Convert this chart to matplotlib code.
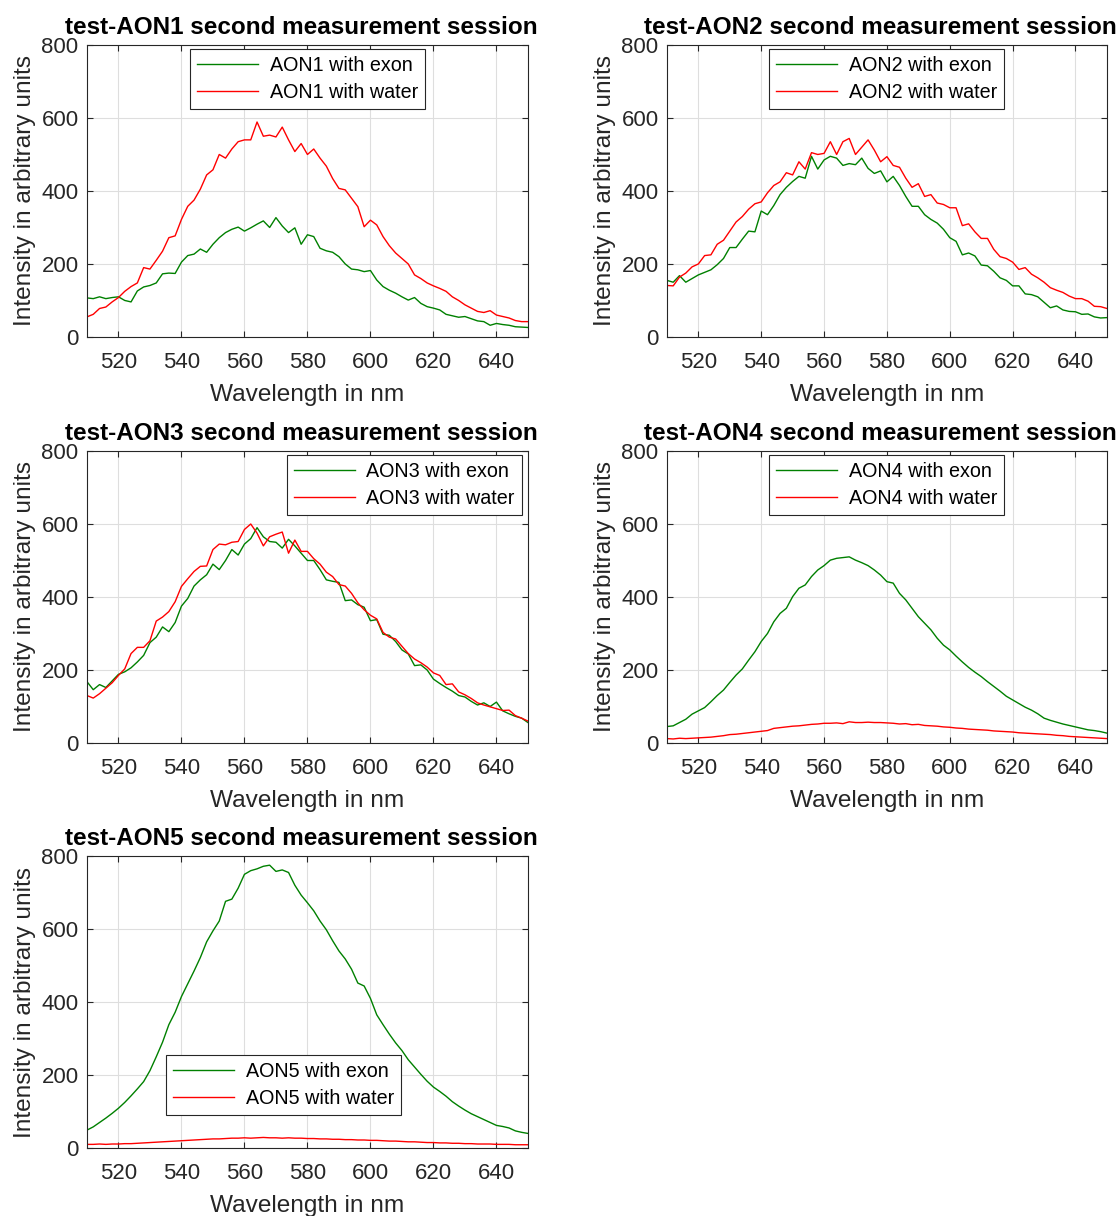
import numpy as np
from matplotlib import pyplot as plt

plt.rcParams['font.family'] = ['Liberation Sans', 'DejaVu Sans']

wavelength = np.arange(510, 651, 2)

aon1_exon = [107, 105, 110, 105, 108, 110, 100, 96, 126, 137,
             141, 148, 173, 175, 174, 205, 223, 227, 241, 232,
             254, 272, 286, 295, 301, 290, 299, 309, 318, 300,
             327, 304, 286, 299, 254, 280,
             275, 243, 236, 232, 220, 200, 186, 184, 179, 182,
             156, 138, 128, 120, 110, 101, 108, 92, 83, 79,
             74, 62, 58, 54, 56, 50, 44, 42, 32, 37,
             34, 32, 28, 27, 26]
aon1_water = [55, 62, 78, 82, 96, 108, 125, 138, 148, 190,
              186, 210, 235, 272, 277, 322, 358, 375, 405, 444,
              458, 500, 490, 515, 535, 540, 540, 589, 550, 553,
              548, 575, 540, 508, 530, 500,
              515, 490, 468, 434, 407, 403, 380, 357, 302, 320,
              307, 275, 250, 230, 215, 200, 170, 160, 148, 140,
              133, 125, 110, 100, 88, 79, 70, 67, 72, 60,
              56, 52, 45, 42, 42]

aon2_exon = [155, 150, 168, 150, 160, 170, 177, 184, 198, 215,
             245, 245, 268, 290, 288, 345, 335, 360, 390, 410,
             426, 440, 435, 495, 460, 485, 495, 490, 470, 475,
             472, 490, 462, 448, 455, 425,
             440, 415, 385, 358, 358, 335, 322, 312, 295, 272,
             262, 225, 230, 222, 197, 195, 180, 162, 155, 140,
             140, 118, 116, 110, 95, 80, 85, 74, 70, 69,
             62, 63, 55, 52, 53]
aon2_water = [141, 140, 164, 175, 192, 200, 223, 225, 254, 265,
              290, 315, 330, 350, 365, 370, 395, 415, 425, 450,
              444, 480, 460, 505, 500, 503, 535, 500, 535, 544,
              500, 520, 540, 512, 480, 494,
              470, 465, 435, 410, 420, 385, 390, 367, 363, 354,
              354, 305, 310, 288, 270, 270, 240, 220, 215, 205,
              185, 190, 172, 162, 150, 135, 128, 122, 112, 105,
              105, 98, 84, 83, 78]

aon3_exon = [168, 146, 160, 152, 170, 188, 195, 206, 222, 240,
             275, 290, 318, 305, 330, 375, 396, 430, 447, 461,
             490, 475, 500, 530, 515, 545, 560, 590, 565, 552,
             550, 534, 558, 540, 520, 500,
             500, 475, 447, 443, 440, 390, 392, 379, 372, 335,
             338, 298, 295, 278, 255, 244, 212, 214, 200, 175,
             163, 152, 142, 130, 126, 114, 104, 110, 100, 112,
             88, 80, 73, 68, 56]
aon3_water = [130, 123, 135, 150, 165, 185, 203, 245, 262, 262,
              280, 334, 345, 360, 387, 429, 450, 470, 484, 485,
              530, 545, 543, 550, 552, 585, 600, 575, 540, 565,
              572, 578, 520, 556, 525, 525,
              505, 490, 468, 456, 434, 430, 410, 384, 365, 350,
              340, 303, 290, 285, 265, 245, 230, 220, 208, 192,
              185, 160, 162, 140, 132, 122, 110, 104, 99, 94,
              89, 90, 75, 68, 60]

aon4_exon = [45, 47, 56, 65, 79, 88, 97, 113, 130, 145,
             166, 186, 203, 227, 250, 278, 300, 332, 355, 369,
             401, 424, 433, 456, 474, 486, 501, 506, 508, 510,
             501, 494, 486, 474, 460, 442,
             438, 410, 392, 369, 346, 328, 310, 287, 268, 255,
             238, 222, 207, 194, 182, 168, 155, 142, 128, 118,
             108, 98, 90, 80, 68, 62, 57, 52, 48, 44,
             40, 36, 34, 31, 27]
aon4_water = [12, 11, 13, 12, 13, 14, 15, 16, 18, 20,
              23, 24, 26, 28, 30, 32, 34, 40, 42, 44,
              46, 47, 49, 51, 52, 54, 54, 55, 53, 58,
              56, 56, 57, 56, 56, 55,
              54, 52, 53, 50, 51, 48, 47, 46, 44, 43,
              41, 40, 38, 37, 36, 35, 33, 32, 31, 30,
              28, 27, 26, 25, 24, 23, 21, 20, 18, 17,
              16, 15, 14, 13, 12]

aon5_exon = [49, 58, 70, 82, 95, 109, 125, 143, 162, 182,
             212, 250, 290, 338, 372, 415, 450, 485, 522, 565,
             595, 622, 676, 682, 712, 750, 760, 765, 772, 775,
             758, 762, 755, 720, 693, 672,
             650, 622, 598, 568, 540, 518, 490, 452, 444, 410,
             365, 338, 312, 288, 267, 242, 222, 202, 183, 167,
             155, 142, 127, 115, 104, 94, 86, 78, 70, 62,
             59, 55, 47, 43, 40]
aon5_water = [10, 10, 11, 10, 11, 11, 12, 12, 13, 14,
              15, 16, 17, 18, 19, 20, 21, 22, 23, 24,
              25, 25, 26, 27, 27, 28, 27, 28, 29, 28,
              28, 27, 28, 27, 27, 26,
              26, 25, 25, 24, 24, 23, 23, 22, 22, 21,
              21, 20, 19, 19, 18, 17, 17, 16, 15, 15,
              14, 14, 13, 13, 12, 12, 11, 11, 11, 10,
              10, 10, 9, 9, 9]

names = ['AON1', 'AON2', 'AON3', 'AON4', 'AON5']
exon = [aon1_exon, aon2_exon, aon3_exon, aon4_exon, aon5_exon]
water = [aon1_water, aon2_water, aon3_water, aon4_water, aon5_water]

# axes rectangles in figure fractions (left, bottom, width, height)
rects = [(0.0777, 0.7229, 0.3941, 0.2401),
         (0.5960, 0.7229, 0.3932, 0.2401),
         (0.0777, 0.3890, 0.3941, 0.2401),
         (0.5960, 0.3890, 0.3932, 0.2401),
         (0.0777, 0.0559, 0.3941, 0.2401)]
legend_loc = [dict(loc='upper center', bbox_to_anchor=(0.5, 0.985)),
              dict(loc='upper center', bbox_to_anchor=(0.5, 0.985)),
              dict(loc='upper right', bbox_to_anchor=(0.986, 0.985)),
              dict(loc='upper center', bbox_to_anchor=(0.5, 0.985)),
              dict(loc='lower left', bbox_to_anchor=(0.179, 0.113))]

dark = '#262626'
fig = plt.figure(figsize=(11.19, 12.16), dpi=100)

for i in range(5):
    ax = fig.add_axes(rects[i])
    ax.plot(wavelength, exon[i], color='#008000', lw=1.0, label=names[i] + ' with exon')
    ax.plot(wavelength, water[i], color='#ff0000', lw=1.0, label=names[i] + ' with water')
    ax.set_xlim(510, 650)
    ax.set_ylim(0, 800)
    ax.set_xticks([520, 540, 560, 580, 600, 620, 640])
    ax.set_yticks([0, 200, 400, 600, 800])
    ax.grid(True, color='#dedede', lw=0.8)
    ax.set_axisbelow(True)
    ax.tick_params(direction='in', top=True, right=True, length=4, width=0.8,
                   labelsize=16, colors=dark)
    ax.tick_params(axis='x', pad=11)
    ax.tick_params(axis='y', pad=6)
    for s in ax.spines.values():
        s.set_color(dark)
        s.set_linewidth(0.8)
    ax.set_xlabel('Wavelength in nm', fontsize=17.6, color=dark, labelpad=8)
    ax.set_ylabel('Intensity in arbitrary units', fontsize=17.6, color=dark, labelpad=4)
    ax.set_title('test-' + names[i] + ' second measurement session',
                 fontsize=17.5, fontweight='bold', pad=8, x=0.486)
    leg = ax.legend(fontsize=14.2, fancybox=False, framealpha=1, edgecolor=dark,
                    handlelength=3.1, handletextpad=0.6, borderpad=0.35,
                    labelspacing=0.4, borderaxespad=0, **legend_loc[i])
    leg.get_frame().set_linewidth(0.8)

fig.savefig('out.png', dpi=100)
